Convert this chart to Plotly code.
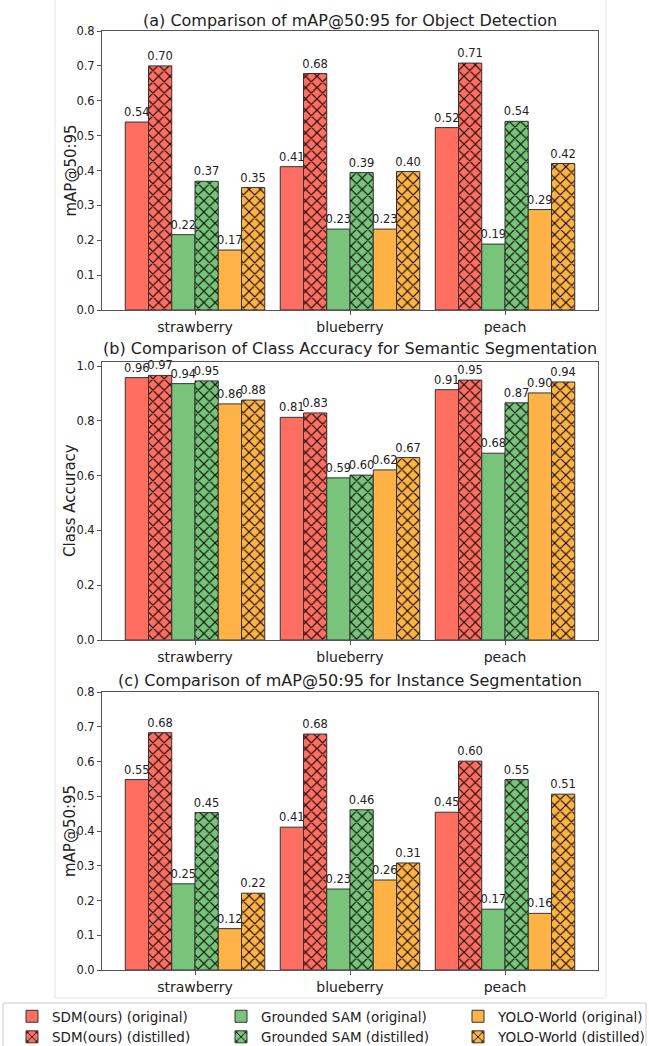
import plotly.graph_objects as go
from plotly.subplots import make_subplots

categories = ["strawberry", "blueberry", "peach"]
methods = ["SDM(ours) (original)", "SDM(ours) (distilled)",
           "Grounded SAM (original)", "Grounded SAM (distilled)",
           "YOLO-World (original)", "YOLO-World (distilled)"]
colors = ["#FF6F61", "#FF6F61", "#77C47A", "#77C47A", "#FFB347", "#FFB347"]
hatched = [False, True, False, True, False, True]

# values per method: [strawberry, blueberry, peach]
det_map = [
    [0.539, 0.411, 0.523],
    [0.700, 0.678, 0.708],
    [0.216, 0.232, 0.189],
    [0.369, 0.394, 0.541],
    [0.172, 0.232, 0.288],
    [0.351, 0.397, 0.420],
]
seg_acc = [
    [0.958, 0.813, 0.914],
    [0.966, 0.829, 0.949],
    [0.936, 0.592, 0.682],
    [0.946, 0.602, 0.866],
    [0.862, 0.621, 0.902],
    [0.876, 0.666, 0.942],
]
ins_map = [
    [0.548, 0.411, 0.454],
    [0.683, 0.679, 0.601],
    [0.248, 0.233, 0.175],
    [0.453, 0.461, 0.548],
    [0.119, 0.259, 0.163],
    [0.221, 0.308, 0.506],
]
titles = ["(a) Comparison of mAP@50:95 for Object Detection",
          "(b) Comparison of Class Accuracy for Semantic Segmentation",
          "(c) Comparison of mAP@50:95 for Instance Segmentation"]
ylabels = ["mAP@50:95", "Class Accuracy", "mAP@50:95"]
yranges = [[0, 0.8], [0, 1.015], [0, 0.8]]
yticks = [[0, 0.1, 0.2, 0.3, 0.4, 0.5, 0.6, 0.7, 0.8],
          [0, 0.2, 0.4, 0.6, 0.8, 1.0],
          [0, 0.1, 0.2, 0.3, 0.4, 0.5, 0.6, 0.7, 0.8]]
datasets = [det_map, seg_acc, ins_map]

W, H = 649, 1046
FONT = "DejaVu Sans"
TXT = "#222222"
x0, x1 = 102, 598
rows_px = [(31, 310), (362, 640), (692, 970)]
title_px = [20, 349, 680]
ylabel_x = 70
legend_ids = ["legend", "legend", "legend2", "legend2", "legend3", "legend3"]

fig = make_subplots(rows=3, cols=1)

for r, data in enumerate(datasets):
    for i, m in enumerate(methods):
        pattern = (dict(shape="x", fgcolor="#000000", fgopacity=1, size=8, solidity=0.25)
                   if hatched[i] else dict(shape=""))
        fig.add_trace(go.Bar(
            x=categories, y=data[i], name=m,
            marker=dict(color=colors[i], line=dict(color="#333333", width=1), pattern=pattern),
            text=[f"{v:.2f}" for v in data[i]], textposition="outside",
            textfont=dict(size=11.5, color=TXT, family=FONT),
            constraintext="none", cliponaxis=False,
            showlegend=(r == 0), legendgroup=m, legend=legend_ids[i],
        ), row=r + 1, col=1)

for r in range(3):
    top, bot = rows_px[r]
    ax = "" if r == 0 else str(r + 1)
    fig.layout["xaxis" + ax].update(
        domain=[x0 / W, x1 / W], range=[-0.6, 2.6], showline=True, mirror=True, automargin=False,
        linecolor="#555555", linewidth=1, ticks="outside", ticklen=4, tickcolor="#555555",
        tickfont=dict(size=14, family=FONT, color=TXT), showgrid=False)
    fig.layout["yaxis" + ax].update(
        domain=[1 - bot / H, 1 - top / H], range=yranges[r], tickvals=yticks[r], automargin=False,
        tickformat=".1f", showline=True, mirror=True, linecolor="#555555", linewidth=1,
        ticks="outside", ticklen=4, tickcolor="#555555", showgrid=False, zeroline=False,
        tickfont=dict(size=11.5, family=FONT, color=TXT))
    fig.add_annotation(text=titles[r], x=(x0 + x1) / 2 / W, y=1 - title_px[r] / H,
                       xref="paper", yref="paper", showarrow=False, xanchor="center", yanchor="middle",
                       font=dict(size=16, family=FONT, color=TXT))
    fig.add_annotation(text=ylabels[r], x=ylabel_x / W, y=1 - (top + bot) / 2 / H,
                       xref="paper", yref="paper", showarrow=False, textangle=-90,
                       xanchor="center", yanchor="middle",
                       font=dict(size=15, family=FONT, color=TXT))

# faint outer frame around the subplots
frame = dict(color="#e6e6e6", width=1)
fig.add_shape(type="line", xref="paper", yref="paper", x0=55 / W, x1=55 / W, y0=1 - 998 / H, y1=1, line=frame)
fig.add_shape(type="line", xref="paper", yref="paper", x0=606 / W, x1=606 / W, y0=1 - 998 / H, y1=1, line=frame)
fig.add_shape(type="line", xref="paper", yref="paper", x0=55 / W, x1=606 / W,
              y0=1 - 998 / H, y1=1 - 998 / H, line=frame)
# legend box
fig.add_shape(type="rect", xref="paper", yref="paper", x0=3 / W, x1=646 / W,
              y0=-0.01, y1=1 - 1003 / H, line=dict(color="#cccccc", width=1), fillcolor="rgba(0,0,0,0)")

leg_common = dict(orientation="v", xref="paper", yref="paper", xanchor="left", yanchor="top",
                  y=1 - 1001 / H, bgcolor="rgba(0,0,0,0)", borderwidth=0,
                  font=dict(size=13.5, family=FONT, color=TXT), tracegroupgap=0, itemwidth=30)
fig.update_layout(
    width=W, height=H, margin=dict(l=0, r=0, t=0, b=0, autoexpand=False),
    paper_bgcolor="white", plot_bgcolor="white",
    barmode="group", bargap=0.1, bargroupgap=0,
    font=dict(family=FONT, color=TXT),
    legend=dict(x=12 / W, **leg_common),
    legend2=dict(x=221 / W, **leg_common),
    legend3=dict(x=458 / W, **leg_common),
)

fig.write_html("out.html", config={"displayModeBar": False},
               post_script="document.body.style.margin='0px';")
